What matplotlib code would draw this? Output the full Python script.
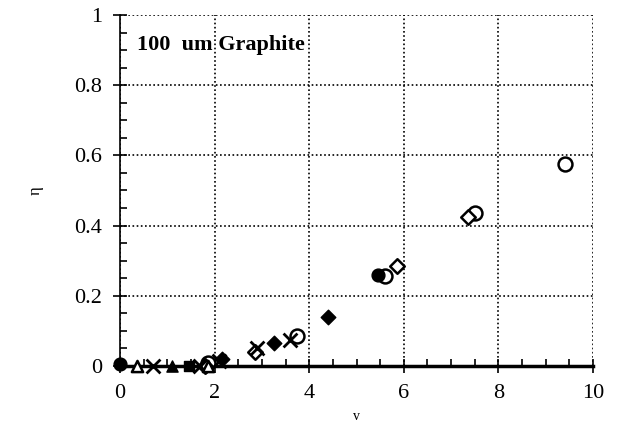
import matplotlib.pyplot as plt
from matplotlib.ticker import MultipleLocator

plt.rcParams['font.family'] = ['Liberation Serif', 'DejaVu Serif']

# grouped by marker
open_circle_x = [1.85, 3.75, 5.6, 7.5, 9.4]
open_circle_y = [0.008, 0.085, 0.255, 0.435, 0.575]
filled_circle_x = [0.0, 5.45]
filled_circle_y = [0.005, 0.258]
open_diamond_x = [1.8, 2.85, 5.85, 7.35]
open_diamond_y = [0.0, 0.04, 0.285, 0.425]
filled_diamond_x = [2.15, 3.25, 4.4]
filled_diamond_y = [0.02, 0.065, 0.14]
cross_x = [0.7, 1.7, 2.1, 2.9, 3.6]
cross_y = [0.0, 0.0, 0.015, 0.05, 0.075]
open_tri_x = [0.35, 1.85]
open_tri_y = [0.0, 0.0]
filled_tri_x = [1.1]
filled_tri_y = [0.0]
filled_sq_x = [1.45]
filled_sq_y = [0.0]

fig, ax = plt.subplots(figsize=(6.19, 4.29), dpi=100)
fig.subplots_adjust(left=0.194, right=0.958, top=0.965, bottom=0.147)

kw = dict(zorder=4, clip_on=False)
ax.scatter(open_circle_x, open_circle_y, s=100, facecolors='white', edgecolors='black', linewidths=1.8, **kw)
ax.scatter(filled_circle_x, filled_circle_y, s=85, color='black', **kw)
ax.scatter(open_diamond_x, open_diamond_y, s=55, marker='D', facecolors='white', edgecolors='black', linewidths=1.8, **kw)
ax.scatter(filled_diamond_x, filled_diamond_y, s=55, marker='D', color='black', **kw)
ax.scatter(cross_x, cross_y, s=100, marker='x', color='black', linewidths=2, **kw)
ax.scatter(open_tri_x, open_tri_y, s=65, marker='^', facecolors='white', edgecolors='black', linewidths=1.8, **kw)
ax.scatter(filled_tri_x, filled_tri_y, s=65, marker='^', color='black', **kw)
ax.scatter(filled_sq_x, filled_sq_y, s=50, marker='s', color='black', **kw)

ax.set_xlim(0, 10)
ax.set_ylim(0, 1)
ax.xaxis.set_major_locator(MultipleLocator(2))
ax.xaxis.set_minor_locator(MultipleLocator(0.5))
ax.yaxis.set_major_locator(MultipleLocator(0.2))
ax.yaxis.set_minor_locator(MultipleLocator(0.05))
ax.set_yticks([0, 0.2, 0.4, 0.6, 0.8, 1])
ax.set_yticklabels(['0', '0.2', '0.4', '0.6', '0.8', '1'])

ax.grid(True, which='major', linestyle=(0, (1, 1.5)), color='black', linewidth=1.2)
ax.spines['top'].set_visible(False)
ax.spines['right'].set_visible(False)
ax.spines['bottom'].set_linewidth(2.5)
ax.spines['left'].set_linewidth(1.2)
ax.tick_params(which='major', direction='inout', length=10, width=1.2, labelsize=16, pad=8)
ax.tick_params(which='minor', direction='in', length=5, width=1.2)

ax.text(0.035, 0.915, '100  um Graphite', transform=ax.transAxes, fontsize=16, fontweight='bold', va='center')

ax.set_xlabel('v', fontsize=10, labelpad=5)
ax.set_ylabel('η', fontsize=12, labelpad=22)

plt.savefig('out.png')
